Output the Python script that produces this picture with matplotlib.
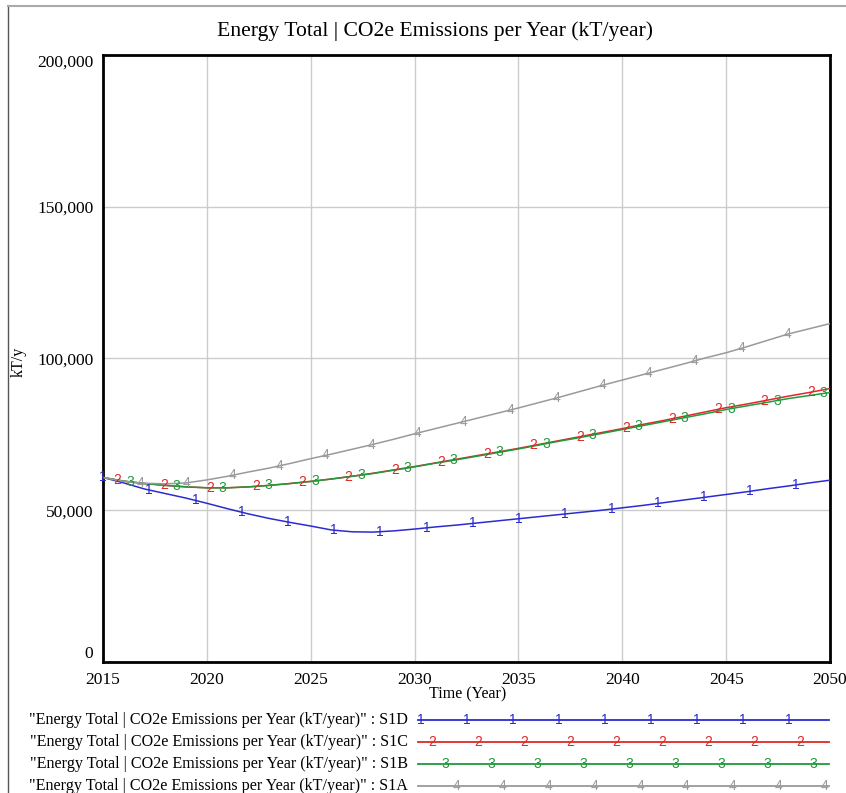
import numpy as np
import matplotlib
matplotlib.use("Agg")
import matplotlib.pyplot as plt
from matplotlib.lines import Line2D

years = np.arange(2015, 2051)

# kT/year
s1d = [60.8, 59.0, 57.0, 55.5, 54.0, 52.3, 50.5, 48.8, 47.3, 46.0, 44.8, 43.5,
       42.9, 42.8, 43.2, 43.8, 44.5, 45.1, 45.8, 46.5, 47.2, 47.9, 48.6, 49.3,
       50.0, 50.8, 51.6, 52.5, 53.4, 54.3, 55.2, 56.1, 57.1, 58.0, 59.0, 59.9]
s1c = [60.8, 59.6, 58.8, 58.2, 57.7, 57.4, 57.4, 57.7, 58.2, 58.8, 59.5, 60.3,
       61.2, 62.2, 63.3, 64.4, 65.6, 66.8, 68.0, 69.2, 70.4, 71.7, 73.0, 74.3,
       75.6, 76.9, 78.3, 79.6, 81.0, 82.4, 83.8, 85.0, 86.3, 87.6, 88.8, 90.1]
s1b = [60.8, 59.6, 58.8, 58.2, 57.7, 57.4, 57.4, 57.7, 58.2, 58.8, 59.5, 60.3,
       61.2, 62.1, 63.2, 64.3, 65.5, 66.6, 67.8, 69.0, 70.2, 71.5, 72.8, 74.0,
       75.3, 76.6, 77.9, 79.2, 80.5, 81.8, 83.2, 84.4, 85.6, 86.8, 87.8, 88.8]
s1a = [60.8, 59.5, 58.9, 58.7, 59.0, 60.0, 61.2, 62.6, 63.9, 65.4, 67.0, 68.5,
       70.1, 71.7, 73.4, 75.2, 76.9, 78.6, 80.3, 82.0, 83.7, 85.5, 87.3, 89.2,
       91.1, 92.9, 94.7, 96.5, 98.3, 100.2, 101.9, 103.9, 106.0, 108.1, 109.8, 111.5]

series = [s1d, s1c, s1b, s1a]
names = ["S1D", "S1C", "S1B", "S1A"]
marks = ["1", "2", "3", "4"]
colors = ["#2b2bd0", "#e02828", "#1f9a3c", "#9a9a9a"]
offsets = [0.0, 0.7, 1.3, 1.8]   # where the digit markers start (years after 2015)
step = 2.225

yticks = [0, 50000, 100000, 150000, 200000]
xticks = [2015, 2020, 2025, 2030, 2035, 2040, 2045, 2050]

serif = "Liberation Serif"
plt.rcParams["font.family"] = serif

fig = plt.figure(figsize=(8.46, 7.93), dpi=100)
ax = fig.add_axes([103 / 846, 1 - 662 / 793, 727 / 846, 607 / 793])

for vals, c in zip(series, colors):
    ax.plot(years, np.array(vals) * 1000, color=c, lw=1.1, zorder=3)

# vensim-style digit markers sitting on the lines
for vals, m, c, off in zip(series, marks, colors, offsets):
    v = np.array(vals) * 1000
    mx = np.arange(2015 + off, 2050.01, step)
    my = np.interp(mx, years, v)
    for xx, yy in zip(mx, my):
        ax.text(xx, yy, m, color=c, fontsize=10, family="Liberation Sans",
                ha="center", va="center", zorder=4)

ax.set_xlim(2015, 2050)
ax.set_ylim(0, 200000)
ax.set_xticks(xticks)
ax.set_yticks(yticks)
ax.set_yticklabels([f"{t:,}" for t in yticks])
ax.grid(True, color="#cccccc", lw=1.0)
ax.set_axisbelow(True)
ax.tick_params(length=0, labelsize=12.5, pad=7)
for s in ax.spines.values():
    s.set_linewidth(2.0)
    s.set_color("black")
ylab = ax.get_yticklabels()
ylab[0].set_va("bottom")
ylab[-1].set_va("top")

fig.text(435 / 846, 1 - 31 / 793, "Energy Total | CO2e Emissions per Year (kT/year)",
         ha="center", va="center", fontsize=15.6)
fig.text(468 / 846, 1 - 694 / 793, "Time (Year)", ha="center", va="center", fontsize=11.5)
fig.text(19 / 846, 1 - 362 / 793, "kT/y", ha="center", va="center", rotation=90, fontsize=11.5)

# legend rows below the plot
row_y = [720, 742, 764, 786]
leg_start = [421, 432, 445, 456]
for i in range(4):
    yy = 1 - row_y[i] / 793
    fig.text(408 / 846, yy, f"\"Energy Total | CO2e Emissions per Year (kT/year)\" : {names[i]}",
             ha="right", va="center", fontsize=11.6)
    fig.add_artist(Line2D([418 / 846, 829 / 846], [yy, yy], color=colors[i], lw=1.3))
    for k in range(9):
        fig.text((leg_start[i] + 46 * k) / 846, yy, marks[i], color=colors[i], fontsize=10,
                 family="Liberation Sans", ha="center", va="center")

# window frame lines (left and top)
fig.add_artist(Line2D([8 / 846, 8 / 846], [0, 1 - 6 / 793], color="#555555", lw=1.0))
fig.add_artist(Line2D([8 / 846, 1], [1 - 6 / 793, 1 - 6 / 793], color="#aaaaaa", lw=1.5))

fig.savefig("out.png", dpi=100)
